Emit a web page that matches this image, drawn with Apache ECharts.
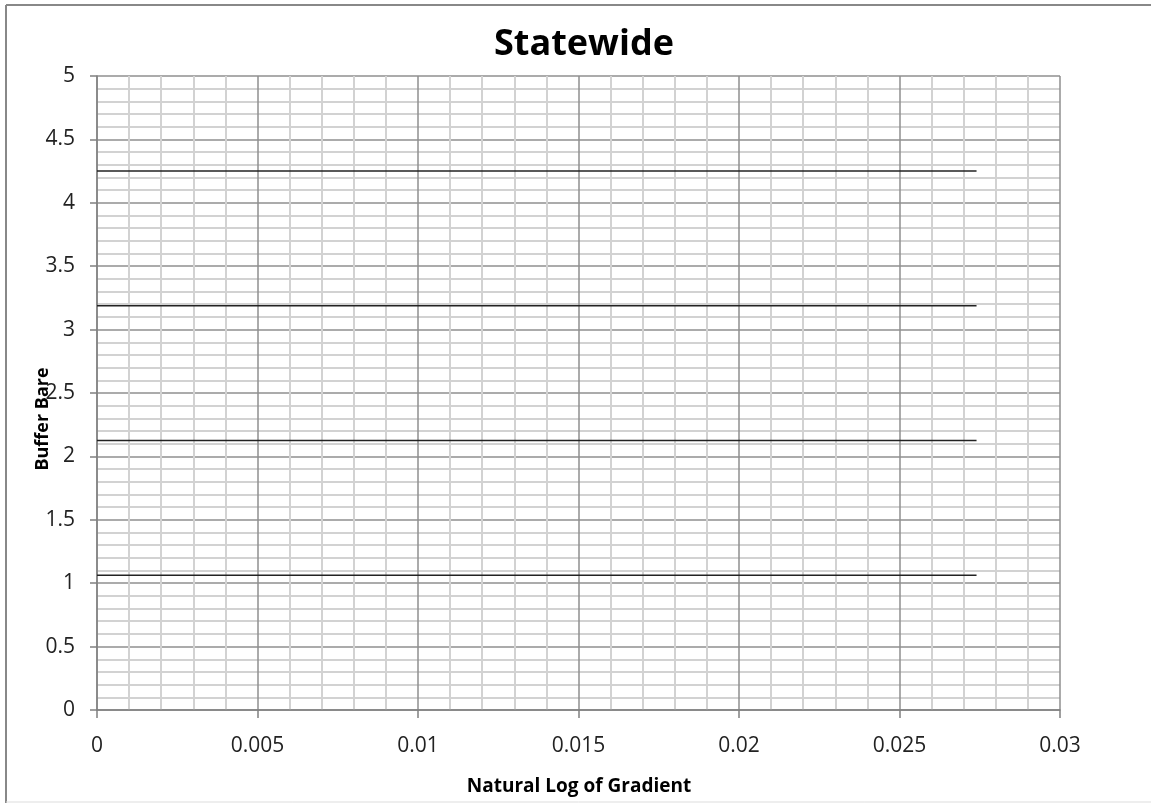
<!DOCTYPE html>
<html>
<head>
<meta charset="utf-8">
<script src="https://cdn.jsdelivr.net/npm/echarts@6/dist/echarts.min.js"></script>
<style>
  html, body { margin: 0; padding: 0; background: #fff; }
  #chart { width: 1151px; height: 803px; }
</style>
</head>
<body>
<div id="chart"></div>
<script>
// y value of each flat line, and where the lines start / stop on x
const lineLevels = [1.0625, 2.125, 3.1875, 4.25];
const lineStart = 0;
const lineEnd = 0.0274;

const chart = echarts.init(document.getElementById('chart'));
const font = '"Open Sans", "Noto Sans", sans-serif';

let series = lineLevels.map(function (v, i) {
  return {
    name: 'Series' + (i + 1),
    type: 'line',
    symbol: 'none',
    lineStyle: { color: '#222', width: 1.5 },
    data: [[lineStart, v], [lineEnd, v]]
  };
});

let option = {
  animation: false,
  backgroundColor: '#fff',
  title: {
    text: 'Statewide',
    left: 579,
    top: 22,
    textAlign: 'center',
    textStyle: { fontFamily: font, fontSize: 36, fontWeight: 'bold', color: '#000' }
  },
  grid: { left: 97, top: 76, right: 91, bottom: 93 },
  xAxis: {
    type: 'value',
    min: 0,
    max: 0.03,
    interval: 0.005,
    axisLine: { show: true, lineStyle: { color: '#808080', width: 1.5 } },
    axisTick: { show: true, inside: false, length: 8, lineStyle: { color: '#808080', width: 1.5 } },
    axisLabel: { margin: 26, fontFamily: font, fontSize: 21, color: '#222' },
    splitLine: { show: true, lineStyle: { color: '#8f8f8f', width: 1.5 } },
    minorTick: { show: false, splitNumber: 5 },
    minorSplitLine: { show: true, lineStyle: { color: '#d2d2d2', width: 2 } }
  },
  yAxis: {
    type: 'value',
    min: 0,
    max: 5,
    interval: 0.5,
    axisLine: { show: true, lineStyle: { color: '#808080', width: 1.5 } },
    axisTick: { show: true, inside: false, length: 7, lineStyle: { color: '#808080', width: 1.5 } },
    axisLabel: { margin: 22, fontFamily: font, fontSize: 21, color: '#222' },
    splitLine: { show: true, lineStyle: { color: '#8f8f8f', width: 1.5 } },
    minorTick: { show: false, splitNumber: 5 },
    minorSplitLine: { show: true, lineStyle: { color: '#d2d2d2', width: 2 } }
  },
  graphic: [
    // outer chart border
    { type: 'line', shape: { x1: 6, y1: 5, x2: 1151, y2: 5 }, style: { stroke: '#888', lineWidth: 2 } },
    { type: 'line', shape: { x1: 6, y1: 5, x2: 6, y2: 803 }, style: { stroke: '#888', lineWidth: 2 } },
    { type: 'line', shape: { x1: 6, y1: 802, x2: 1151, y2: 802 }, style: { stroke: '#ddd', lineWidth: 1 } },
    {
      type: 'text',
      x: 579,
      y: 787,
      style: { text: 'Natural Log of Gradient', font: 'bold 19px ' + font, fill: '#000', textAlign: 'center', textVerticalAlign: 'middle' }
    },
    {
      type: 'text',
      x: 43,
      y: 419,
      rotation: Math.PI / 2,
      style: { text: 'Buffer Bare', font: 'bold 18px ' + font, fill: '#000', textAlign: 'center', textVerticalAlign: 'middle' }
    }
  ],
  series: series
};
chart.setOption(option);
</script>
</body>
</html>
